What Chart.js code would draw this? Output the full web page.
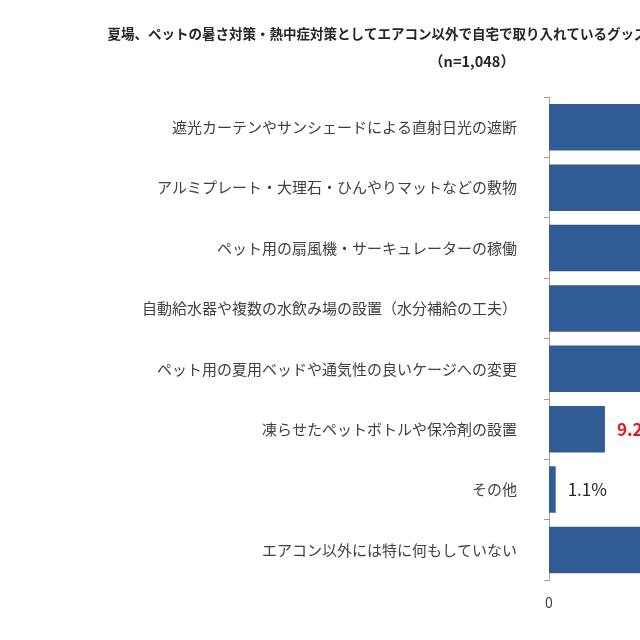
<!DOCTYPE html>
<html lang="ja">
<head>
<meta charset="utf-8">
<script src="https://cdn.jsdelivr.net/npm/chart.js@4"></script>
<style>
  html, body { margin: 0; padding: 0; background: #fff; overflow: hidden; }
  #wrap { position: relative; width: 979px; height: 640px; }
</style>
</head>
<body>
<div id="wrap"><canvas id="chart"></canvas></div>
<script>
// データ（画像から読み取り・右側は切れているため推定）
const titleText = '夏場、ペットの暑さ対策・熱中症対策としてエアコン以外で自宅で取り入れているグッズや工夫は何ですか（複数回答）';
const subtitleText = '（n=1,048）';
const categories = [
    '遮光カーテンやサンシェードによる直射日光の遮断',
    'アルミプレート・大理石・ひんやりマットなどの敷物',
    'ペット用の扇風機・サーキュレーターの稼働',
    '自動給水器や複数の水飲み場の設置（水分補給の工夫）',
    'ペット用の夏用ベッドや通気性の良いケージへの変更',
    '凍らせたペットボトルや保冷剤の設置',
    'その他',
    'エアコン以外には特に何もしていない'
];
const values = [38.4, 33.7, 29.5, 24.8, 19.6, 9.2, 1.1, 27.3];
const xTicks = [0, 20, 40, 60];
const highlightIndex = 5; // 赤字で強調されている項目

const FONT = '"Noto Sans CJK JP", "Noto Sans", sans-serif';

// 棒の右に値ラベルを描く
const valueLabels = {
    id: 'valueLabels',
    afterDatasetsDraw(chart) {
        const ctx = chart.ctx;
        const meta = chart.getDatasetMeta(0);
        ctx.save();
        ctx.textBaseline = 'middle';
        ctx.textAlign = 'left';
        meta.data.forEach((bar, i) => {
            const hi = i === highlightIndex;
            ctx.font = (hi ? 'bold ' : '') + '17px ' + FONT;
            ctx.fillStyle = hi ? '#e8191e' : '#262626';
            ctx.fillText(values[i].toFixed(1) + '%', bar.x + 12, bar.y);
        });
        ctx.restore();
    }
};

new Chart(document.getElementById('chart'), {
    type: 'bar',
    data: {
        labels: categories,
        datasets: [{
            data: values,
            backgroundColor: '#305b94',
            borderWidth: 0,
            barPercentage: 0.77,
            categoryPercentage: 1
        }]
    },
    options: {
        indexAxis: 'y',
        responsive: true,
        maintainAspectRatio: false,
        animation: false,
        layout: { padding: { top: 22, right: 35, bottom: 23, left: 0 } },
        plugins: {
            legend: { display: false },
            tooltip: { enabled: false },
            title: {
                display: true,
                text: titleText,
                color: '#262626',
                font: { family: FONT, size: 13.5, weight: 'bold', lineHeight: 1.8 },
                padding: { top: 0, bottom: 4 }
            },
            subtitle: {
                display: true,
                text: subtitleText,
                color: '#262626',
                font: { family: FONT, size: 14.5, weight: 'bold', lineHeight: 1.5 },
                padding: { top: 0, bottom: 25 }
            }
        },
        scales: {
            x: {
                min: 0,
                max: 65,
                afterBuildTicks: (axis) => { axis.ticks = xTicks.map(v => ({ value: v })); },
                grid: { display: false },
                border: { display: false },
                ticks: { color: '#404040', font: { family: FONT, size: 14 }, padding: 6 }
            },
            y: {
                afterFit: (axis) => { axis.width = 549; },
                grid: {
                    drawOnChartArea: false,
                    drawTicks: true,
                    tickLength: 5,
                    color: '#a89886'
                },
                border: { color: '#a6a6a6', width: 1 },
                ticks: {
                    color: '#404040',
                    font: { family: FONT, size: 15 },
                    padding: 27
                }
            }
        }
    },
    plugins: [valueLabels]
});
</script>
</body>
</html>
